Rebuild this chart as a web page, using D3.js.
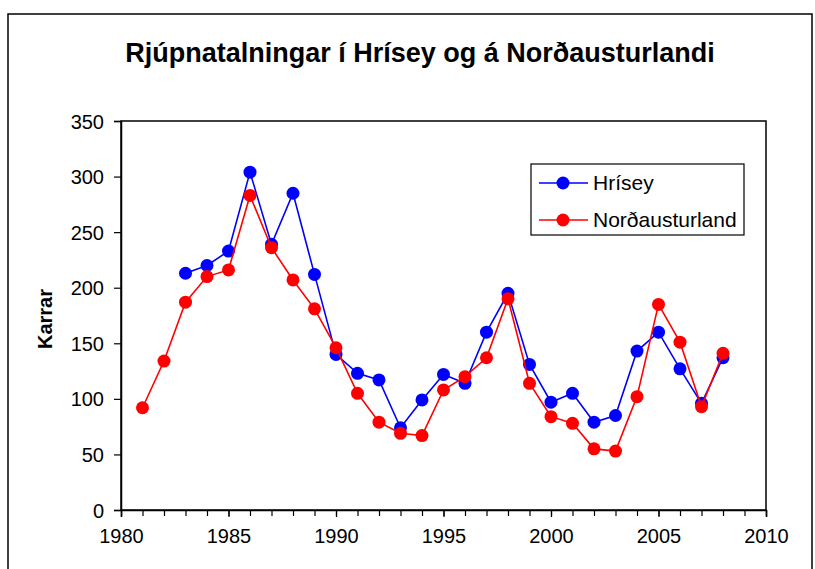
<!DOCTYPE html>
<html>
<head>
<meta charset="utf-8">
<script src="https://cdn.jsdelivr.net/npm/d3@7"></script>
<style>
  body { margin: 0; background: #fff; }
  text { font-family: "Liberation Sans", Arial, sans-serif; fill: #000; }
</style>
</head>
<body>
<div id="chart"></div>
<script>
// data
var hriseyYears = [1983, 1984, 1985, 1986, 1987, 1988, 1989, 1990, 1991, 1992, 1993, 1994, 1995,
  1996, 1997, 1998, 1999, 2000, 2001, 2002, 2003, 2004, 2005, 2006, 2007, 2008];
var hriseyValues = [213, 220, 233, 304, 239, 285, 212, 140, 123, 117, 74, 99, 122,
  114, 160, 195, 131, 97, 105, 79, 85, 143, 160, 127, 96, 137];

var nordYears = [1981, 1982, 1983, 1984, 1985, 1986, 1987, 1988, 1989, 1990, 1991, 1992, 1993, 1994,
  1995, 1996, 1997, 1998, 1999, 2000, 2001, 2002, 2003, 2004, 2005, 2006, 2007, 2008];
var nordValues = [92, 134, 187, 210, 216, 283, 236, 207, 181, 146, 105, 79, 69, 67,
  108, 120, 137, 190, 114, 84, 78, 55, 53, 102, 185, 151, 93, 141];

var seriesNames = ["Hrísey", "Norðausturland"];
var seriesColors = ["#0000ff", "#ff0000"];
var xTicks = [1980, 1985, 1990, 1995, 2000, 2005, 2010];
var yTicks = [0, 50, 100, 150, 200, 250, 300, 350];

var svgWidth = 815;
var svgHeight = 569;
var plot = { left: 121, top: 121, right: 766, bottom: 510 };

var svg = d3.select("#chart")
  .append("svg")
  .attr("width", svgWidth)
  .attr("height", svgHeight);

// outer frame
svg.append("rect")
  .attr("x", 8).attr("y", 14)
  .attr("width", 804).attr("height", 580)
  .attr("fill", "none")
  .attr("stroke", "#000")
  .attr("stroke-width", 1.5);

svg.append("text")
  .attr("x", 420).attr("y", 62)
  .attr("text-anchor", "middle")
  .style("font-size", "27px")
  .style("font-weight", "bold")
  .text("Rjúpnatalningar í Hrísey og á Norðausturlandi");

var x = d3.scaleLinear().domain([1980, 2010]).range([plot.left, plot.right]);
var y = d3.scaleLinear().domain([0, 350]).range([plot.bottom, plot.top]);

// plot area box
svg.append("rect")
  .attr("x", plot.left).attr("y", plot.top)
  .attr("width", plot.right - plot.left)
  .attr("height", plot.bottom - plot.top)
  .attr("fill", "none")
  .attr("stroke", "#000")
  .attr("stroke-width", 1.5);

// minor year ticks
var xMinor = svg.append("g")
  .attr("transform", `translate(0, ${plot.bottom})`)
  .call(d3.axisBottom(x).tickValues(d3.range(1980, 2011)).tickSize(6).tickFormat(""));
xMinor.select(".domain").remove();

var xAxis = svg.append("g")
  .attr("transform", `translate(0, ${plot.bottom})`)
  .call(d3.axisBottom(x).tickValues(xTicks).tickSize(7).tickPadding(12).tickFormat(d3.format("d")));
xAxis.selectAll("text").style("font-size", "20px");

var yAxis = svg.append("g")
  .attr("transform", `translate(${plot.left}, 0)`)
  .call(d3.axisLeft(y).tickValues(yTicks).tickSize(7).tickPadding(10));
yAxis.selectAll("text").style("font-size", "20px").attr("dy", "0.35em");

svg.selectAll(".domain").attr("stroke-width", 1.5);
svg.selectAll(".tick line").attr("stroke-width", 1.2);

svg.append("text")
  .attr("transform", "translate(52, 319) rotate(-90)")
  .attr("text-anchor", "middle")
  .style("font-size", "20px")
  .style("font-weight", "bold")
  .text("Karrar");

var line = d3.line()
  .x(function(d) { return x(d[0]); })
  .y(function(d) { return y(d[1]); });

var series = [
  d3.zip(hriseyYears, hriseyValues),
  d3.zip(nordYears, nordValues)
];

series.forEach(function(pts, i) {
  svg.append("path")
    .datum(pts)
    .attr("d", line)
    .attr("fill", "none")
    .attr("stroke", seriesColors[i])
    .attr("stroke-width", 1.6);
  svg.append("g")
    .selectAll("circle")
    .data(pts)
    .enter()
    .append("circle")
    .attr("cx", function(d) { return x(d[0]); })
    .attr("cy", function(d) { return y(d[1]); })
    .attr("r", 6.5)
    .attr("fill", seriesColors[i]);
});

// legend
var legend = svg.append("g");
legend.append("rect")
  .attr("x", 531).attr("y", 164)
  .attr("width", 213).attr("height", 71)
  .attr("fill", "#fff")
  .attr("stroke", "#000")
  .attr("stroke-width", 1.2);

seriesNames.forEach(function(name, i) {
  var ly = 183 + i * 37;
  legend.append("line")
    .attr("x1", 539).attr("x2", 588)
    .attr("y1", ly).attr("y2", ly)
    .attr("stroke", seriesColors[i])
    .attr("stroke-width", 1.6);
  legend.append("circle")
    .attr("cx", 563).attr("cy", ly)
    .attr("r", 6.5)
    .attr("fill", seriesColors[i]);
  legend.append("text")
    .attr("x", 593).attr("y", ly)
    .attr("dy", "0.35em")
    .style("font-size", "21px")
    .text(name);
});
</script>
</body>
</html>
